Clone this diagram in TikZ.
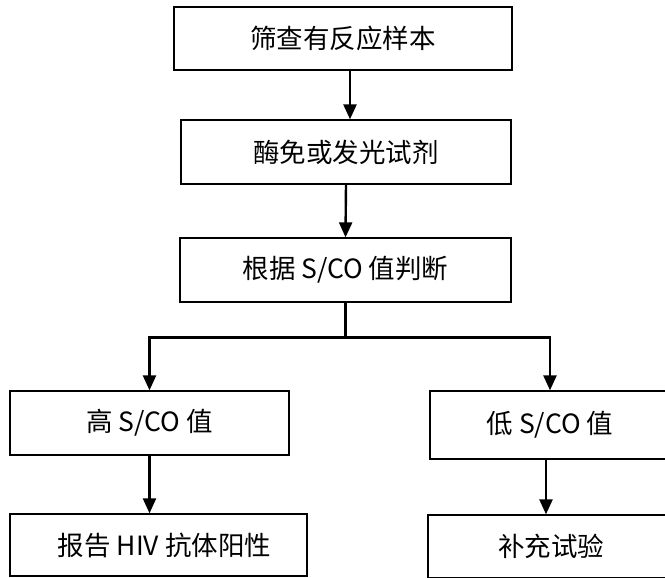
\documentclass[tikz,border=0pt]{standalone}
\usepackage{fontspec}
\setmainfont{Noto Sans CJK SC}
\usetikzlibrary{arrows.meta}

\tikzset{
  flowbox/.style={draw, line width=1.3pt, inner sep=0pt, font=\fontsize{26.5}{30}\selectfont},
  flowarr/.style={line width=2.4pt, -{Triangle[width=13pt,length=15pt]}}
}

\begin{document}
\begin{tikzpicture}[x=1pt, y=-1pt]

\useasboundingbox (0,0) rectangle (665,578);

% boxes, in pixel positions of the page
\node[flowbox, minimum width=338pt, minimum height=63pt] (sample) at (343,38.5) {筛查有反应样本};
\node[flowbox, minimum width=330pt, minimum height=64pt] (reagent) at (346,152) {酶免或发光试剂};
\node[flowbox, minimum width=331pt, minimum height=64pt] (judge) at (345.5,270) {根据 S/CO 值判断};

\node[flowbox, minimum width=279pt, minimum height=64pt] (high) at (149.5,423) {高 S/CO 值};
\node[flowbox, minimum width=240pt, minimum height=68pt] (low) at (550,425) {低 S/CO 值};

\node[flowbox, minimum width=297pt, minimum height=62pt] (report) at (158.5,545) {\hspace{12pt}报告 HIV 抗体阳性};
\node[flowbox, minimum width=246pt, minimum height=63pt] (extra) at (551,546.5) {补充试验};

% connectors
\draw[flowarr] ([xshift=7pt]sample.south) -- ([xshift=4pt]reagent.north);
\draw[flowarr] (reagent.south) -- (judge.north);

\draw[flowarr] (judge.south) -- ++(0,35) -| (high.north);
\draw[flowarr] (judge.south) -- ++(0,35) -| (low.north);

\draw[flowarr] (high.south) -- (high.south |- report.north);
\draw[flowarr] ([xshift=-4pt]low.south) -- ([xshift=-4pt]low.south |- extra.north);

\end{tikzpicture}
\end{document}
